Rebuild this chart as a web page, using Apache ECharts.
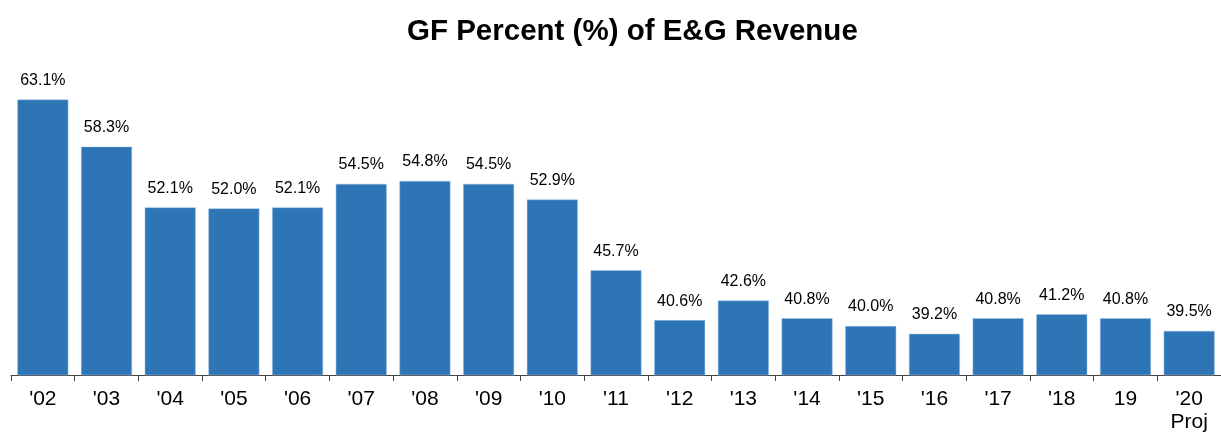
<!DOCTYPE html>
<html>
<head>
<meta charset="utf-8">
<script src="https://cdn.jsdelivr.net/npm/echarts@6/dist/echarts.min.js"></script>
<style>
  html, body { margin: 0; padding: 0; background: #fff; }
  #main { width: 1221px; height: 434px; }
</style>
</head>
<body>
<div id="main"></div>
<script>
// data
var years = ["'02", "'03", "'04", "'05", "'06", "'07", "'08", "'09", "'10", "'11",
             "'12", "'13", "'14", "'15", "'16", "'17", "'18", "19", "'20\nProj"]
var gfPercent = [63.1, 58.3, 52.1, 52.0, 52.1, 54.5, 54.8, 54.5, 52.9, 45.7,
                 40.6, 42.6, 40.8, 40.0, 39.2, 40.8, 41.2, 40.8, 39.5]

var chart = echarts.init(document.getElementById('main'))
var option = {
    backgroundColor: '#fff',
    animation: false,
    title: {
        text: 'GF Percent (%) of E&G Revenue',
        left: 402,
        top: 12,
        textStyle: {
            fontFamily: 'Liberation Sans, Arial',
            fontSize: 29.5,
            fontWeight: 'bold',
            color: '#000'
        }
    },
    grid: {
        left: 11,
        right: -5,
        top: 81,
        bottom: 59,
        containLabel: false
    },
    xAxis: {
        type: 'category',
        data: years,
        axisLine: { lineStyle: { color: '#444', width: 1 } },
        axisTick: { show: true, length: 6, lineStyle: { color: '#444' } },
        axisLabel: {
            color: '#000',
            fontFamily: 'Liberation Sans, Arial',
            fontSize: 21,
            margin: 13,
            lineHeight: 23,
            interval: 0
        }
    },
    yAxis: {
        type: 'value',
        min: 35,
        max: 65,
        show: false,
        splitLine: { show: false }
    },
    series: [{
        type: 'bar',
        data: gfPercent,
        barCategoryGap: '20%',
        itemStyle: {
            color: '#2e75b6',
            borderColor: '#9dc3e6',
            borderWidth: 0.5
        },
        label: {
            show: true,
            position: 'top',
            distance: 11,
            color: '#000',
            fontFamily: 'Liberation Sans, Arial',
            fontSize: 16,
            formatter: function (p) {
                return p.value.toFixed(1) + '%'
            }
        }
    }]
}
chart.setOption(option, true)
</script>
</body>
</html>
